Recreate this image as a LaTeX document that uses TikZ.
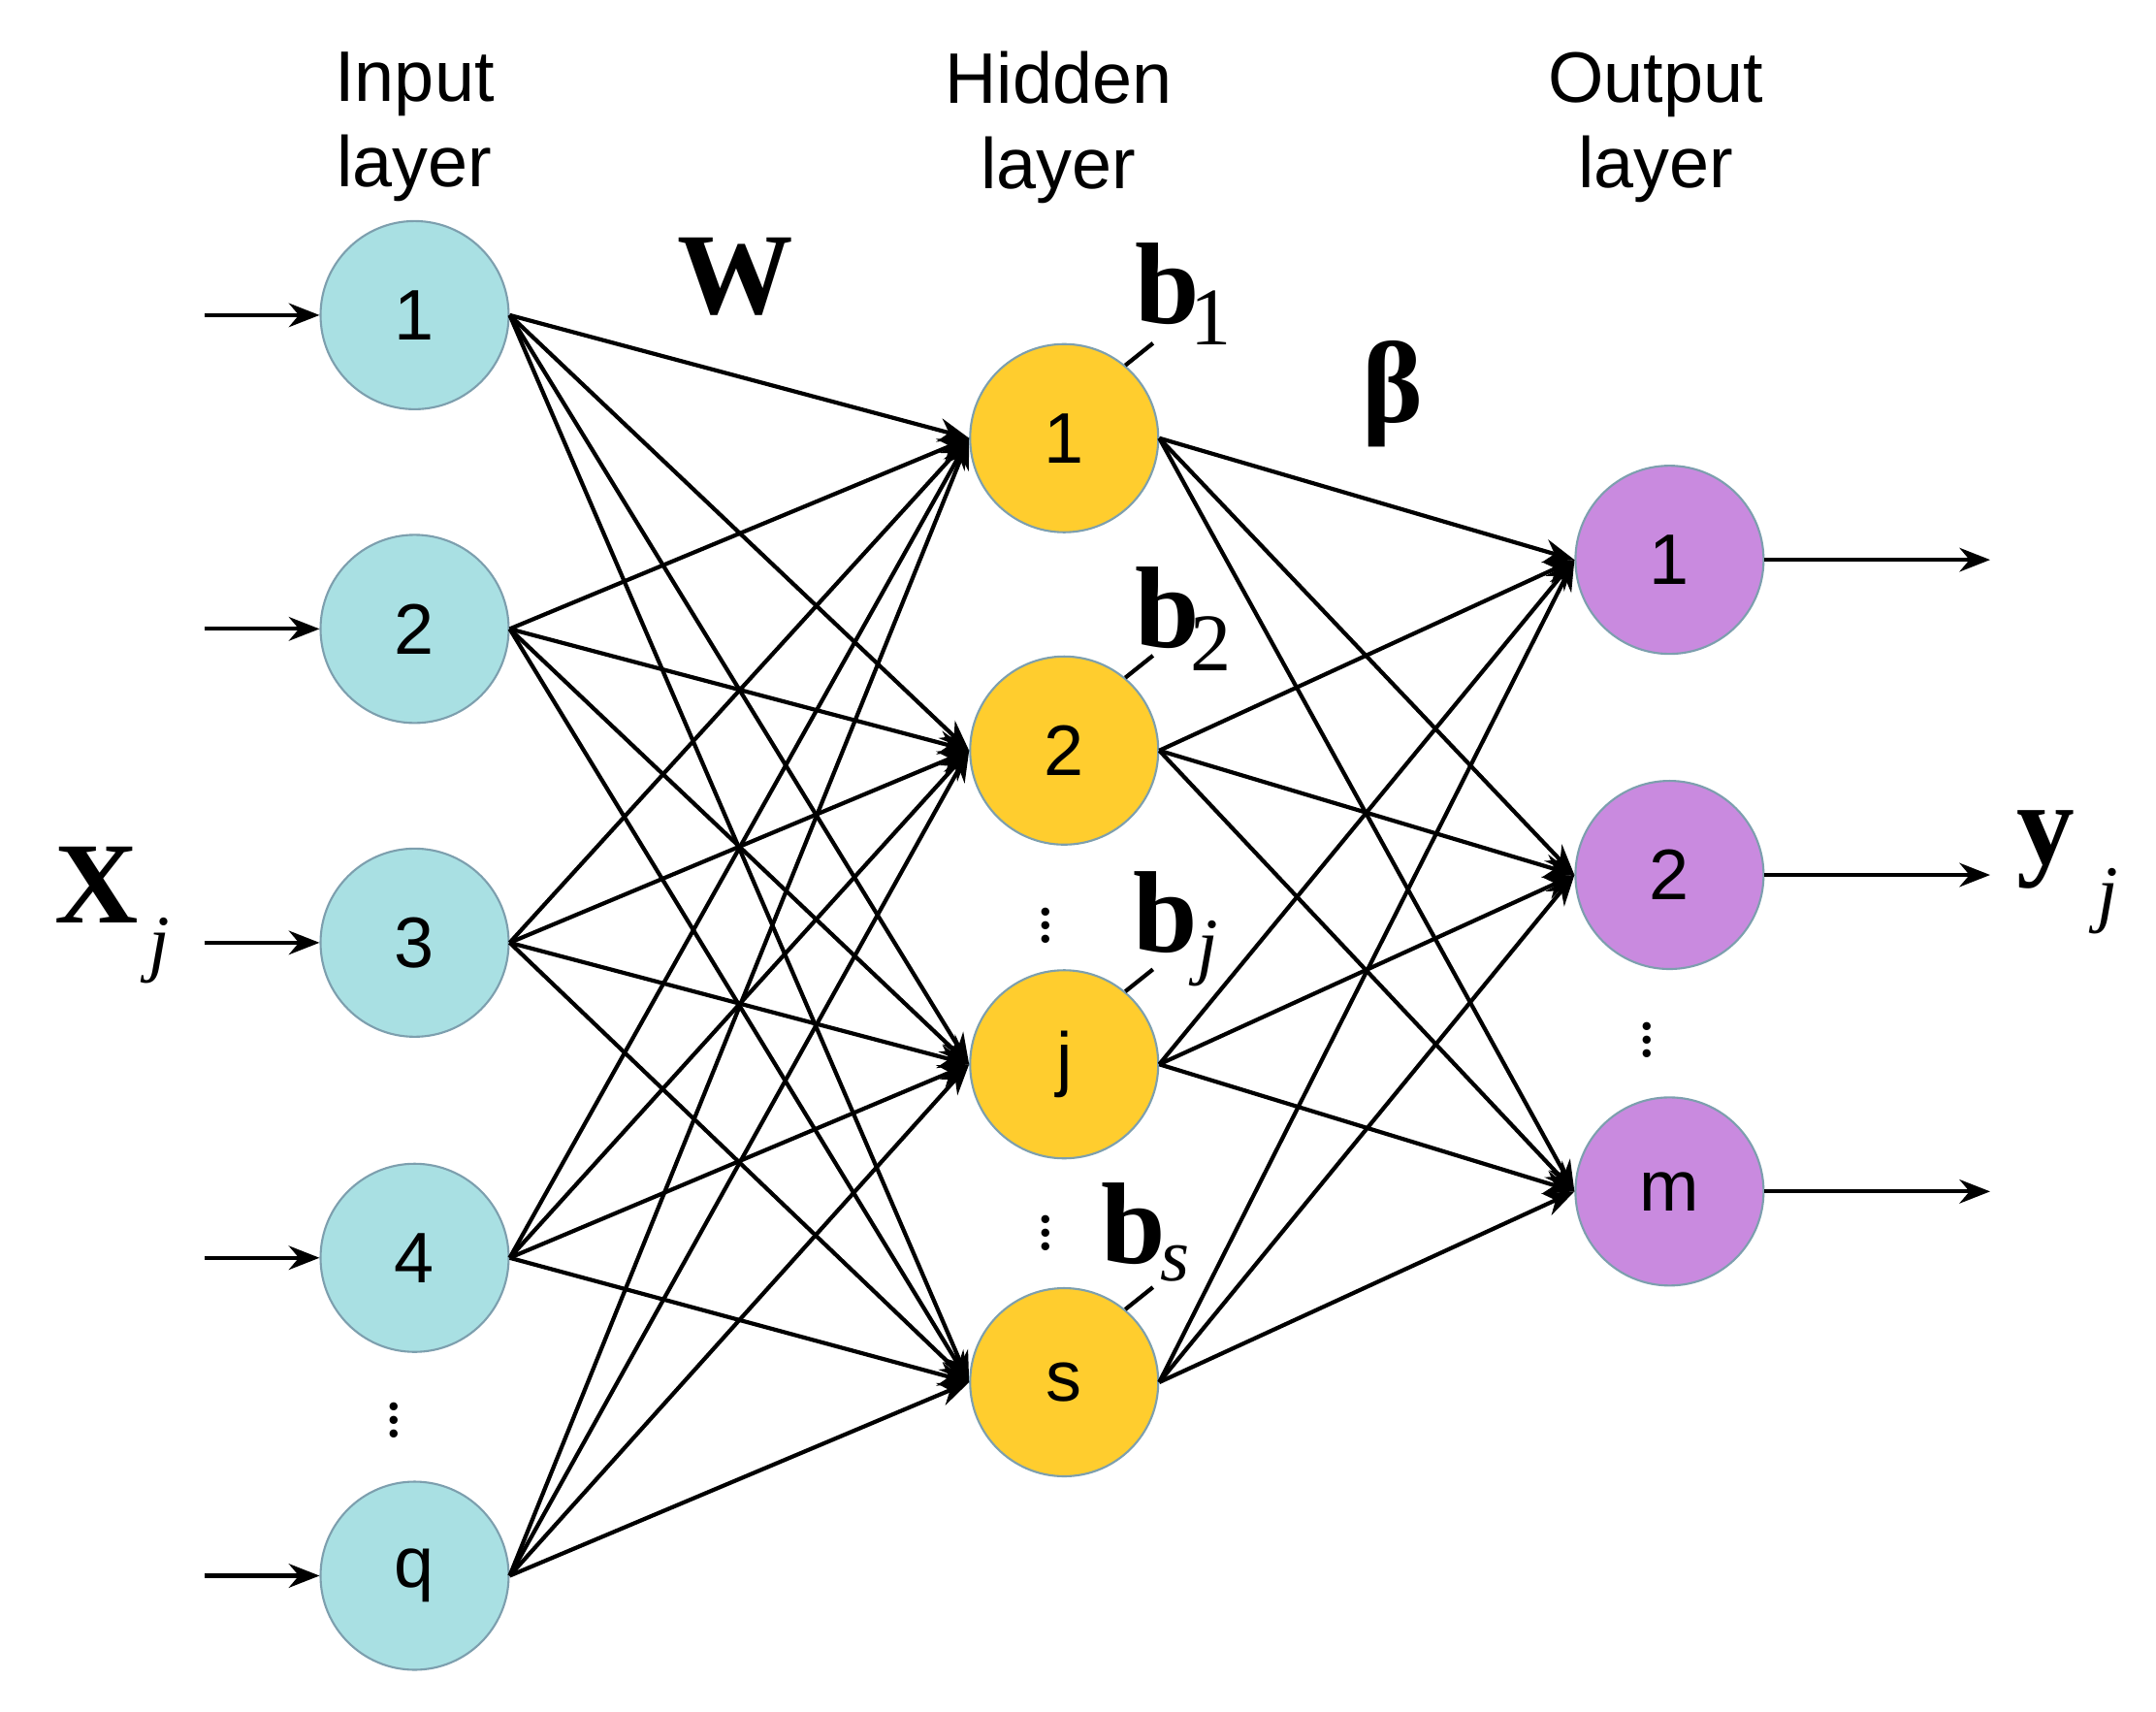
\documentclass[tikz,border=0pt]{standalone}
\usepackage{amsmath, amssymb}
\usepackage{fontspec}
\setmainfont{Liberation Serif}
\newfontfamily\labelfont{Liberation Sans}
\usetikzlibrary{positioning}
\definecolor{inblue}{HTML}{A9E0E3}
\definecolor{hidyel}{HTML}{FFCD2E}
\definecolor{outpur}{HTML}{C98ADF}
\tikzset{
  neuron/.style={shape=circle, draw=cyan!30!gray, line width=0.6pt, minimum size=1.94cm, inner sep=0pt, font=\labelfont\fontsize{21}{21}\selectfont},
  inp/.style={neuron, fill=inblue},
  hid/.style={neuron, fill=hidyel},
  outp/.style={neuron, fill=outpur},
  title/.style={font=\labelfont\fontsize{21}{25}\selectfont, align=center},
  conn/.style={-{Stealth[length=9pt,width=7pt]}, line width=1.2pt},
  bias/.style={font=\bfseries\fontsize{34}{34}\selectfont},
  sub/.style={font=\itshape\fontsize{22}{22}\selectfont}
}
\usetikzlibrary{arrows.meta}
\begin{document}
\begin{tikzpicture}[x=0.01425cm, y=-0.01425cm]
        \useasboundingbox (0,0) rectangle (1560,1238);

        \node[title] (tIn) at (300,92) {Input\\layer};
        \node[title] (tHid) at (766,92) {Hidden\\layer};
        \node[title] (tOut) at (1198,92) {Output\\layer};

        \node[inp] (I1) at (300,228) {1};
        \node[inp] (I2) at (300,455) {2};
        \node[inp] (I3) at (300,682) {3};
        \node[inp] (I4) at (300,910) {4};
        \node[inp] (I5) at (300,1140) {q};

        \node[hid] (H1) at (770,317) {1};
        \node[hid] (H2) at (770,543) {2};
        \node[hid] (H3) at (770,770) {j};
        \node[hid] (H4) at (770,1000) {s};

        \node[outp] (O1) at (1208,405) {1};
        \node[outp] (O2) at (1208,633) {2};
        \node[outp] (O3) at (1208,862) {m};

        % weights
        \foreach \i in {1,...,5}
            \foreach \h in {1,...,4}
                \draw[conn] (I\i.east) -- (H\h.west);
        \foreach \h in {1,...,4}
            \foreach \o in {1,2,3}
                \draw[conn] (H\h.east) -- (O\o.west);

        % inputs and outputs
        \foreach \i/\y in {1/228,2/455,3/682,4/910,5/1140} {
            \coordinate (a\i) at (148,\y);
            \draw[conn] (a\i) -- (I\i);
        }
        \foreach \o/\y in {1/405,2/633,3/862} {
            \coordinate (z\o) at (1440,\y);
            \draw[conn] (O\o) -- (z\o);
        }

        % labels
        \node[bias] (W) at (532,200) {W};
        \node[bias] (beta) at (1008,285) {β};
        \node[bias] (X) at (70,640) {X};
        \node[sub] (Xj) at (115,688) {j};
        \node[bias] (Y) at (1480,615) {y};
        \node[sub] (Yj) at (1525,652) {j};

        \node[bias] (b1) at (845,205) {b};
        \node[font=\fontsize{24}{24}\selectfont] (b1s) at (876,230) {1};
        \node[bias] (b2) at (845,440) {b};
        \node[font=\fontsize{24}{24}\selectfont] (b2s) at (876,466) {2};
        \node[bias] (bj) at (843,660) {b};
        \node[sub] (bjs) at (874,690) {j};
        \node[bias] (bs) at (820,885) {b};
        \node[sub] (bss) at (850,914) {s};
        \foreach \h in {1,...,4}
            \draw[line width=1.2pt] (H\h.50) -- ++(20,-16);

        % dots
        \foreach \n/\x/\y in {d1/757/662, d2/757/885, d3/285/1020, d4/1192/745}
            \node[font=\fontsize{20}{20}\selectfont] (\n) at (\x,\y) {$\boldsymbol{\vdots}$};
    \end{tikzpicture}
\end{document}
